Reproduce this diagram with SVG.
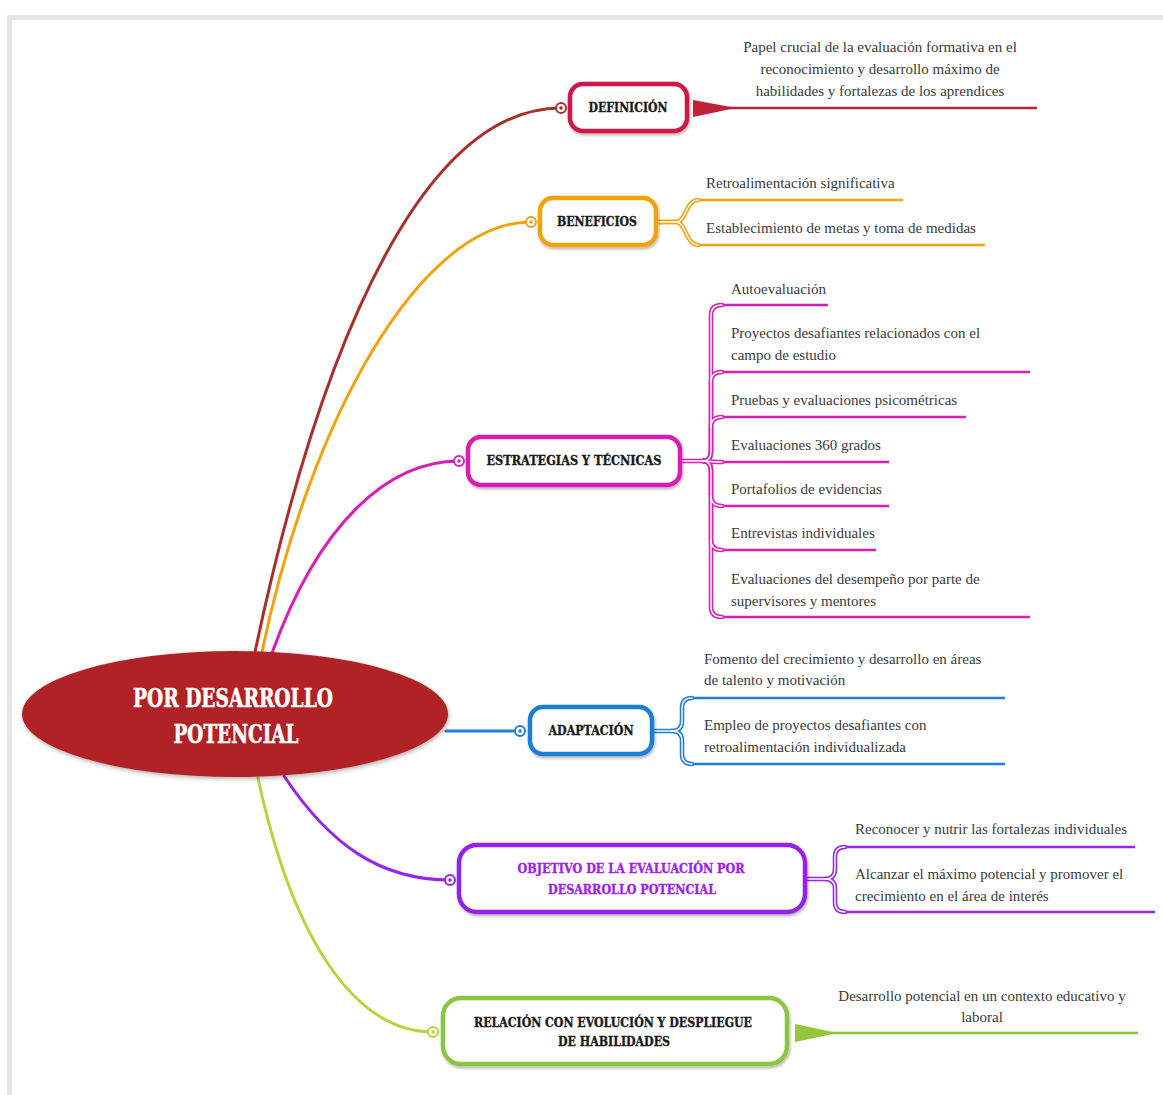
<svg xmlns="http://www.w3.org/2000/svg" width="1163" height="1095" viewBox="0 0 1163 1095">
<defs>
<filter id="sh" x="-20%" y="-30%" width="140%" height="160%">
<feDropShadow dx="1" dy="2" stdDeviation="1.5" flood-color="#000" flood-opacity="0.3"/>
</filter>
<filter id="shc" x="-10%" y="-20%" width="120%" height="140%">
<feDropShadow dx="1" dy="2" stdDeviation="2" flood-color="#000" flood-opacity="0.3"/>
</filter>
</defs>
<style>
.desc{font-family:'Liberation Serif','Times New Roman',serif;font-size:15px;fill:#3a3a3a;}
.lbl{font-family:'DejaVu Serif','Liberation Serif',serif;font-weight:bold;font-size:12px;fill:#1a1a1a;stroke:#1a1a1a;stroke-width:0.35;text-anchor:middle;}
.title{font-family:'DejaVu Serif','Liberation Serif',serif;font-weight:bold;font-size:26px;fill:#fff;stroke:#fff;stroke-width:0.6;text-anchor:middle;}
.box{fill:#fff;stroke-width:4.5;filter:url(#sh);}
.ring{fill:#fff;stroke-width:2;}
.br{fill:none;stroke-width:4.5;stroke-linecap:round;}
.brw{fill:none;stroke:#fff;stroke-width:1.4;stroke-linecap:round;}
.ul{fill:none;stroke-width:2.5;}
.main{fill:none;stroke-width:3;stroke-linecap:round;}
</style>
<rect x="0" y="0" width="1163" height="1095" fill="#fff"/>
<rect x="7" y="15" width="1156" height="5" fill="#e6e6e6"/>
<rect x="7" y="15" width="5" height="1080" fill="#e6e6e6"/>

<g id="connectors">
<path class="main" stroke="#a8302c" d="M255 652 C325 320 430 108 561 108"/>
<path class="main" stroke="#f2a20f" d="M262 652 C310 420 420 222 531 222"/>
<path class="main" stroke="#d81fb4" d="M272 653 C320 520 390 461 459 461"/>
<path class="main" stroke="#1f7fd6" d="M446 731 L520 731"/>
<path class="main" stroke="#9524ec" d="M284 776 C330 845 380 880 450 880"/>
<path class="main" stroke="#b7d43c" d="M258 778 C295 950 360 1032 433 1032"/>

<polygon fill="#c02238" points="693,100 693,117 731,109 731,107"/>
<line class="ul" stroke="#b5253a" x1="729" y1="108" x2="1037" y2="108"/>

<g stroke="#f2a20f">
<path class="br" d="M656 222 L676 222 C686 222 686 200 698 200"/>
<path class="br" d="M656 222 L676 222 C686 222 686 245 698 245"/>
<line class="ul" x1="697" y1="200" x2="903" y2="200"/>
<line class="ul" x1="697" y1="245" x2="985" y2="245"/>
</g>
<path class="brw" d="M656 222 L676 222 C686 222 686 200 698 200"/>
<path class="brw" d="M676 222 C686 222 686 245 698 245"/>

<g stroke="#d81fb4">
<path class="br" d="M680 461 L703 461 Q711 461 711 451 L711 315 Q711 305 722 305"/>
<path class="br" d="M703 461 Q711 461 711 451 L711 382 Q711 372 722 372"/>
<path class="br" d="M703 461 Q711 461 711 451 L711 427 Q711 417 722 417"/>
<path class="br" d="M703 461 C711 461 711 462 722 462"/>
<path class="br" d="M703 461 Q711 461 711 471 L711 496 Q711 506 722 506"/>
<path class="br" d="M703 461 Q711 461 711 471 L711 540 Q711 550 722 550"/>
<path class="br" d="M703 461 Q711 461 711 471 L711 607 Q711 617 722 617"/>
<line class="ul" x1="721" y1="305" x2="828" y2="305"/>
<line class="ul" x1="721" y1="372" x2="1030" y2="372"/>
<line class="ul" x1="721" y1="417" x2="966" y2="417"/>
<line class="ul" x1="721" y1="462" x2="889" y2="462"/>
<line class="ul" x1="721" y1="506" x2="889" y2="506"/>
<line class="ul" x1="721" y1="550" x2="876" y2="550"/>
<line class="ul" x1="721" y1="617" x2="1030" y2="617"/>
</g>
<path class="brw" d="M680 461 L703 461 Q711 461 711 451 L711 315 Q711 305 722 305"/>
<path class="brw" d="M703 461 Q711 461 711 471 L711 607 Q711 617 722 617"/>
<path class="brw" d="M711 382 Q711 372 722 372"/>
<path class="brw" d="M711 427 Q711 417 722 417"/>
<path class="brw" d="M703 461 C711 461 711 462 722 462"/>
<path class="brw" d="M711 496 Q711 506 722 506"/>
<path class="brw" d="M711 540 Q711 550 722 550"/>

<g stroke="#1f7fd6">
<path class="br" d="M652 731 L672 731 Q682 731 682 721 L682 708 Q682 698 692 698"/>
<path class="br" d="M672 731 Q682 731 682 741 L682 754 Q682 764 692 764"/>
<line class="ul" x1="691" y1="698" x2="1005" y2="698"/>
<line class="ul" x1="691" y1="764" x2="1005" y2="764"/>
</g>
<path class="brw" d="M652 731 L672 731 Q682 731 682 721 L682 708 Q682 698 692 698"/>
<path class="brw" d="M672 731 Q682 731 682 741 L682 754 Q682 764 692 764"/>

<g stroke="#9524ec">
<path class="br" d="M805 879 L825 879 Q835 879 835 869 L835 857 Q835 847 845 847"/>
<path class="br" d="M825 879 Q835 879 835 889 L835 902 Q835 912 845 912"/>
<line class="ul" x1="844" y1="847" x2="1135" y2="847"/>
<line class="ul" x1="844" y1="912" x2="1155" y2="912"/>
</g>
<path class="brw" d="M805 879 L825 879 Q835 879 835 869 L835 857 Q835 847 845 847"/>
<path class="brw" d="M825 879 Q835 879 835 889 L835 902 Q835 912 845 912"/>

<polygon fill="#96c63c" points="795,1024 795,1042 833,1034 833,1032"/>
<line class="ul" stroke="#8cc63f" x1="831" y1="1033" x2="1138" y2="1033"/>
</g>

<g id="central">
<ellipse cx="235" cy="714" rx="213" ry="63" fill="#b02427" filter="url(#shc)"/>
<text class="title" x="233" y="707" textLength="200" lengthAdjust="spacingAndGlyphs">POR DESARROLLO</text>
<text class="title" x="236" y="743" textLength="125" lengthAdjust="spacingAndGlyphs">POTENCIAL</text>
</g>

<g id="definicion">
<rect class="box" stroke="#d3164a" x="570" y="84" width="117" height="47" rx="13"/>
<circle class="ring" stroke="#a8302c" cx="561" cy="108" r="5"/>
<circle fill="#a8302c" cx="561" cy="108" r="1.8"/>
<text class="lbl" x="628" y="112" textLength="79" lengthAdjust="spacingAndGlyphs">DEFINICIÓN</text>
</g>
<g id="definicion-desc">
<text class="desc" x="880" y="52" text-anchor="middle">Papel crucial de la evaluación formativa en el</text>
<text class="desc" x="880" y="74" text-anchor="middle">reconocimiento y desarrollo máximo de</text>
<text class="desc" x="880" y="96" text-anchor="middle">habilidades y fortalezas de los aprendices</text>
</g>

<g id="beneficios">
<rect class="box" stroke="#f2a20f" x="540" y="198" width="116" height="47" rx="13"/>
<circle class="ring" stroke="#f2a20f" cx="531" cy="222" r="5"/>
<circle fill="#f2a20f" cx="531" cy="222" r="1.8"/>
<text class="lbl" x="597" y="226" textLength="80" lengthAdjust="spacingAndGlyphs">BENEFICIOS</text>
</g>
<g id="beneficios-items">
<text class="desc" x="706" y="188">Retroalimentación significativa</text>
<text class="desc" x="706" y="233">Establecimiento de metas y toma de medidas</text>
</g>

<g id="estrategias">
<rect class="box" stroke="#d81fb4" x="468" y="437" width="212" height="48" rx="13"/>
<circle class="ring" stroke="#d81fb4" cx="459" cy="461" r="5"/>
<circle fill="#d81fb4" cx="459" cy="461" r="1.8"/>
<text class="lbl" x="574" y="465" textLength="175" lengthAdjust="spacingAndGlyphs">ESTRATEGIAS Y TÉCNICAS</text>
</g>
<g id="estrategias-items">
<text class="desc" x="731" y="294">Autoevaluación</text>
<text class="desc" x="731" y="338">Proyectos desafiantes relacionados con el</text>
<text class="desc" x="731" y="360">campo de estudio</text>
<text class="desc" x="731" y="405">Pruebas y evaluaciones psicométricas</text>
<text class="desc" x="731" y="450">Evaluaciones 360 grados</text>
<text class="desc" x="731" y="494">Portafolios de evidencias</text>
<text class="desc" x="731" y="538">Entrevistas individuales</text>
<text class="desc" x="731" y="584">Evaluaciones del desempeño por parte de</text>
<text class="desc" x="731" y="606">supervisores y mentores</text>
</g>

<g id="adaptacion">
<rect class="box" stroke="#1f7fd6" x="530" y="707" width="122" height="47" rx="13"/>
<circle class="ring" stroke="#1f7fd6" cx="520" cy="731" r="5"/>
<circle fill="#1f7fd6" cx="520" cy="731" r="1.8"/>
<text class="lbl" x="591" y="735" textLength="85" lengthAdjust="spacingAndGlyphs">ADAPTACIÓN</text>
</g>
<g id="adaptacion-items">
<text class="desc" x="704" y="664">Fomento del crecimiento y desarrollo en áreas</text>
<text class="desc" x="704" y="685">de talento y motivación</text>
<text class="desc" x="704" y="730">Empleo de proyectos desafiantes con</text>
<text class="desc" x="704" y="752">retroalimentación individualizada</text>
</g>

<g id="objetivo">
<rect class="box" stroke="#9524ec" x="459" y="845" width="346" height="67" rx="18"/>
<circle class="ring" stroke="#9524ec" cx="450" cy="880" r="5"/>
<circle fill="#9524ec" cx="450" cy="880" r="1.8"/>
<text class="lbl" x="631" y="873" textLength="227" lengthAdjust="spacingAndGlyphs" style="fill:#a020f0;stroke:#a020f0">OBJETIVO DE LA EVALUACIÓN POR</text>
<text class="lbl" x="632" y="894" textLength="168" lengthAdjust="spacingAndGlyphs" style="fill:#a020f0;stroke:#a020f0">DESARROLLO POTENCIAL</text>
</g>
<g id="objetivo-items">
<text class="desc" x="855" y="834">Reconocer y nutrir las fortalezas individuales</text>
<text class="desc" x="855" y="879">Alcanzar el máximo potencial y promover el</text>
<text class="desc" x="855" y="901">crecimiento en el área de interés</text>
</g>

<g id="relacion">
<rect class="box" stroke="#8cc63f" x="443" y="998" width="344" height="66" rx="18"/>
<circle class="ring" stroke="#b7d43c" cx="433" cy="1032" r="5"/>
<circle fill="#b7d43c" cx="433" cy="1032" r="1.8"/>
<text class="lbl" x="613" y="1027" textLength="278" lengthAdjust="spacingAndGlyphs">RELACIÓN CON EVOLUCIÓN Y DESPLIEGUE</text>
<text class="lbl" x="614" y="1046" textLength="112" lengthAdjust="spacingAndGlyphs">DE HABILIDADES</text>
</g>
<g id="relacion-desc">
<text class="desc" x="982" y="1001" text-anchor="middle">Desarrollo potencial en un contexto educativo y</text>
<text class="desc" x="982" y="1022" text-anchor="middle">laboral</text>
</g>
</svg>
